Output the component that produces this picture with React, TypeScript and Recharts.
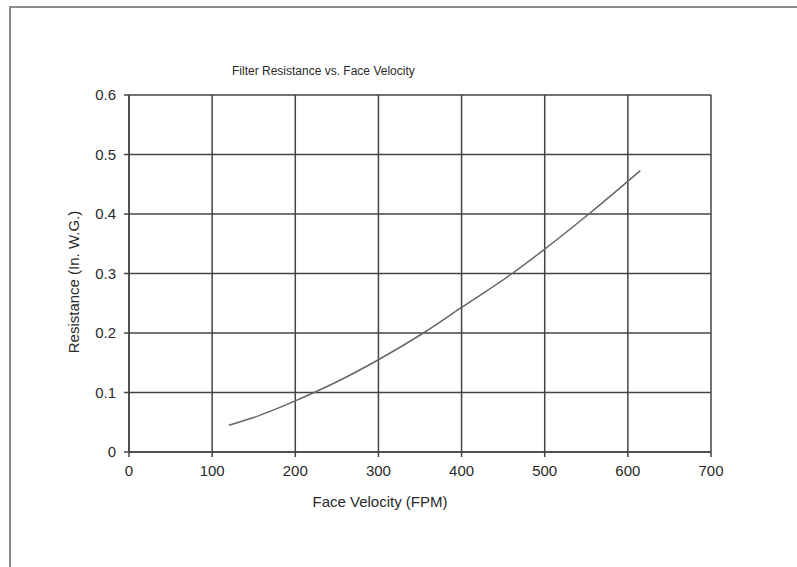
import { LineChart, Line, XAxis, YAxis, CartesianGrid, Label } from "recharts";

// Face velocity (FPM) and resistance (in. W.G.).
const VELOCITY = [120, 150, 200, 250, 300, 354, 400, 461, 500, 553, 615];
const RESISTANCE = [0.045, 0.058, 0.086, 0.118, 0.155, 0.2, 0.243, 0.3, 0.341, 0.4, 0.473];

const X_TICKS = [0, 100, 200, 300, 400, 500, 600, 700];
const Y_TICKS = [0, 0.1, 0.2, 0.3, 0.4, 0.5, 0.6];

const TITLE = "Filter Resistance vs. Face Velocity";
const X_LABEL = "Face Velocity (FPM)";
const Y_LABEL = "Resistance (In. W.G.)";

const FONT = "Arial, 'Liberation Sans', sans-serif";
const GRID = "#444";
const TEXT = "#2a2a2a";

const data = VELOCITY.map((v, i) => ({ v, r: RESISTANCE[i] }));

export default function App() {
  return (
    <div style={{ position: "absolute", left: 0, top: 0, width: 797, height: 567, background: "#fff", fontFamily: FONT }}>
      {/* outer frame, only top/left fall inside the picture */}
      <div
        style={{
          position: "absolute",
          left: 9,
          top: 6,
          width: 800,
          height: 580,
          borderTop: "2px solid #8c8c8c",
          borderLeft: "2px solid #8c8c8c",
        }}
      />
      <div
        style={{
          position: "absolute",
          left: 232,
          top: 64,
          fontSize: 12,
          color: TEXT,
          whiteSpace: "nowrap",
        }}
      >
        {TITLE}
      </div>
      <div style={{ position: "absolute", left: 0, top: 0 }}>
        <LineChart width={797} height={567} data={data} margin={{ top: 95, right: 86, bottom: 85, left: 0 }}>
          <CartesianGrid stroke={GRID} strokeWidth={1.5} horizontalValues={Y_TICKS} verticalValues={X_TICKS} />
          <XAxis
            dataKey="v"
            type="number"
            domain={[0, 700]}
            ticks={X_TICKS}
            interval={0}
            height={30}
            stroke={GRID}
            strokeWidth={1.5}
            tickSize={5}
            tick={{ fill: TEXT, fontSize: 15, fontFamily: FONT }}
            tickMargin={8}
          >
            <Label
              content={() => (
                <text x={380} y={507} textAnchor="middle" fill={TEXT} fontSize={15} fontFamily={FONT}>
                  {X_LABEL}
                </text>
              )}
            />
          </XAxis>
          <YAxis
            type="number"
            domain={[0, 0.6]}
            ticks={Y_TICKS}
            interval={0}
            width={129}
            stroke={GRID}
            strokeWidth={1.5}
            tickSize={5}
            tickMargin={8}
            tick={{ fill: TEXT, fontSize: 15, fontFamily: FONT }}
          >
            <Label
              content={() => (
                <text
                  transform="translate(79,282) rotate(-90)"
                  textAnchor="middle"
                  fill={TEXT}
                  fontSize={15}
                  fontFamily={FONT}
                >
                  {Y_LABEL}
                </text>
              )}
            />
          </YAxis>
          <Line type="monotone" dataKey="r" stroke="#666" strokeWidth={1.5} dot={false} isAnimationActive={false} />
        </LineChart>
      </div>
    </div>
  );
}
